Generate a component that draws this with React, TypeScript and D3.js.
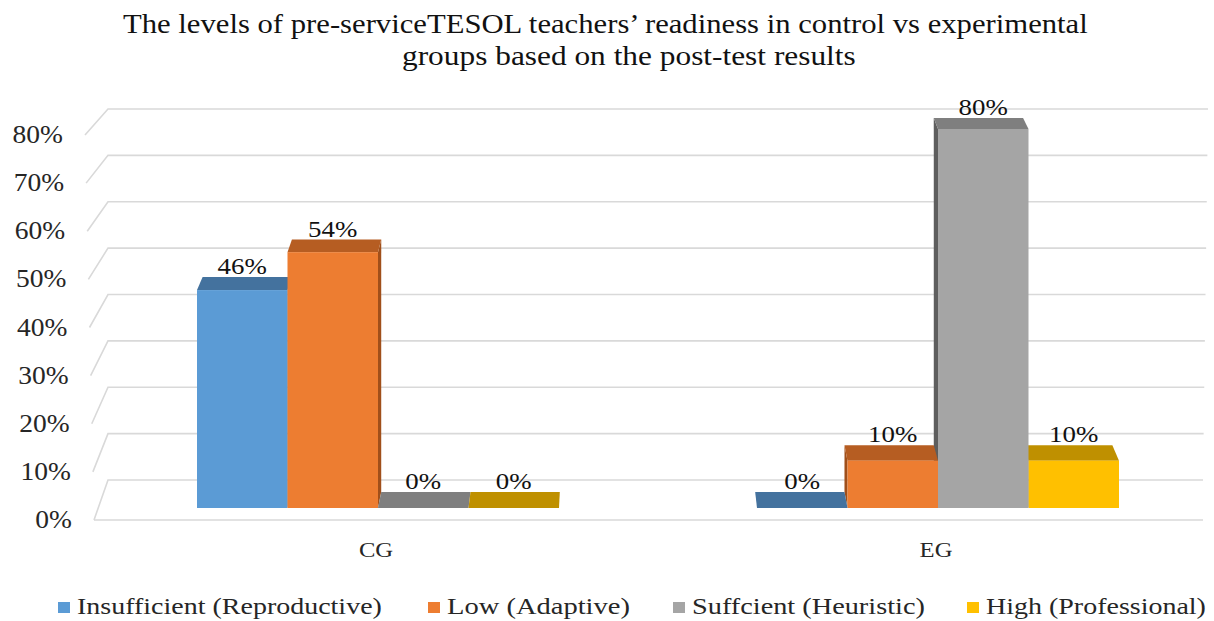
import * as d3 from "d3";
import { useEffect, useRef } from "react";

const categories = ["CG", "EG"];
const seriesNames = [
  "Insufficient (Reproductive)",
  "Low (Adaptive)",
  "Suffcient (Heuristic)",
  "High (Professional)",
];
const insufficient = [46, 0];
const low = [54, 10];
const sufficient = [0, 80];
const high = [0, 10];
const yTicks = [0, 10, 20, 30, 40, 50, 60, 70, 80];

const frontColors = ["#5B9BD5", "#ED7D31", "#A5A5A5", "#FFC000"];
const topColors = ["#44729E", "#B65D22", "#7F7F7F", "#BF9000"];
const sideColors = ["#3A6690", "#A04F1A", "#5E5E5E", "#A67C00"];

const W = 1214;
const H = 621;
const FONT = "Liberation Serif, Times New Roman, serif";

// stretch a text horizontally so it spans a target width from its start x
function fitWidth(sel: d3.Selection<SVGTextElement, unknown, null, undefined>, x: number, y: number, target: number) {
  const len = sel.node()!.getComputedTextLength() || target;
  sel.attr("transform", `translate(${x},${y}) scale(${target / len},1)`);
}

export default function App() {
  const ref = useRef<SVGSVGElement | null>(null);

  useEffect(() => {
    if (!ref.current) return;
    const svg = d3.select(ref.current);
    svg.selectAll("*").remove();

    const values = [insufficient, low, sufficient, high];

    // wall (gridlines) geometry
    const yWallFront = d3.scaleLinear().domain([0, 80]).range([520, 135]);
    const yWallBack = d3.scaleLinear().domain([0, 80]).range([480, 109]);
    const xWallFront = d3.scaleLinear().domain([0, 80]).range([94, 85]);
    const xWallRight = d3.scaleLinear().domain([0, 80]).range([1203, 1208]);
    const xWallBack = 108;

    // bars front plane
    const yBar = d3.scaleLinear().domain([0, 80]).range([508, 129]);
    const x0 = d3.scalePoint<string>().domain(categories).range([378, 938]);
    const x1 = d3.scaleBand<string>().domain(seriesNames).range([-181, 181]);

    // perspective toward a vanishing point
    const vx = 620;
    const vy = -698;
    const k = 0.0133;
    const back = (x: number, y: number): [number, number] => [
      x + (vx - x) * k,
      y + (vy - y) * k,
    ];

    const grid = svg.append("g");
    yTicks.forEach((t) => {
      const pts: [number, number][] = [
        [xWallFront(t), yWallFront(t)],
        [xWallBack, yWallBack(t)],
        [xWallRight(t), yWallBack(t)],
      ];
      grid
        .append("path")
        .attr("d", d3.line()(pts))
        .attr("fill", "none")
        .attr("stroke", "#D9D9D9")
        .attr("stroke-width", 1.6);
    });
    grid
      .append("line")
      .attr("x1", xWallFront(0))
      .attr("x2", xWallRight(0))
      .attr("y1", yWallFront(0))
      .attr("y2", yWallFront(0))
      .attr("stroke", "#D9D9D9")
      .attr("stroke-width", 1.6);

    // y axis labels
    svg
      .append("g")
      .selectAll("text")
      .data(yTicks)
      .join("text")
      .attr(
        "transform",
        (d) => `translate(${xWallFront(d) - 22},${yWallFront(d) + 8}) scale(1.1,1)`
      )
      .attr("text-anchor", "end")
      .attr("font-size", 25)
      .attr("fill", "#262626")
      .text((d) => `${d}%`);

    // bars
    type Bar = { cat: string; si: number; v: number; x: number; w: number };
    const bars: Bar[] = [];
    categories.forEach((c, ci) => {
      seriesNames.forEach((s, si) => {
        bars.push({ cat: c, si, v: values[si][ci], x: x0(c)! + x1(s)!, w: x1.bandwidth() });
      });
    });
    bars.sort(
      (a, b) =>
        Math.abs(b.x + b.w / 2 - vx) - Math.abs(a.x + a.w / 2 - vx)
    );

    const gBars = svg.append("g");
    bars.forEach((b) => {
      const xl = b.x;
      const xr = b.x + b.w;
      const yt = yBar(b.v);
      const yb = yBar(0);
      const g = gBars.append("g");
      const leftSide = xl + b.w / 2 > vx;
      const xe = leftSide ? xl : xr;
      g.append("path")
        .attr(
          "d",
          d3.line()([[xe, yt], back(xe, yt), back(xe, yb), [xe, yb]]) + "Z"
        )
        .attr("fill", sideColors[b.si]);
      g.append("path")
        .attr(
          "d",
          d3.line()([[xl, yt], [xr, yt], back(xr, yt), back(xl, yt)]) + "Z"
        )
        .attr("fill", topColors[b.si]);
      g.append("rect")
        .attr("x", xl)
        .attr("y", yt)
        .attr("width", b.w)
        .attr("height", yb - yt)
        .attr("fill", frontColors[b.si]);
    });

    // data labels
    svg
      .append("g")
      .selectAll("text")
      .data(bars)
      .join("text")
      .attr("transform", (b) => {
        const [, by] = back(b.x + b.w / 2, yBar(b.v));
        return `translate(${b.x + b.w / 2},${by - 3}) scale(1.12,1)`;
      })
      .attr("text-anchor", "middle")
      .attr("font-size", 24)
      .attr("fill", "#111")
      .text((b) => `${b.v}%`);

    // category labels
    svg
      .append("g")
      .selectAll("text")
      .data(categories)
      .join("text")
      .attr("transform", (c) => `translate(${x0(c)! - 2},557) scale(1.12,1)`)
      .attr("text-anchor", "middle")
      .attr("font-size", 22)
      .attr("fill", "#262626")
      .text((c) => c);

    // title
    const titleLines = [
      { t: "The levels of pre-serviceTESOL teachers’ readiness in control vs experimental", x: 123, y: 33, len: 965 },
      { t: "groups based on the post-test results", x: 402, y: 65, len: 454 },
    ];
    titleLines.forEach((d) => {
      const t = svg
        .append("text")
        .attr("font-size", 28)
        .attr("fill", "#111")
        .text(d.t);
      fitWidth(t, d.x, d.y, d.len);
    });

    // legend
    const legendX = [58, 428, 673, 967];
    const legendLen = [305, 183, 233, 220];
    const lg = svg.append("g");
    seriesNames.forEach((s, i) => {
      lg.append("rect")
        .attr("x", legendX[i])
        .attr("y", 602)
        .attr("width", 12)
        .attr("height", 11)
        .attr("fill", frontColors[i]);
      const t = lg
        .append("text")
        .attr("font-size", 23)
        .attr("fill", "#262626")
        .text(s);
      fitWidth(t, legendX[i] + 19, 614, legendLen[i]);
    });
  }, []);

  return (
    <svg
      ref={ref}
      width={W}
      height={H}
      viewBox={`0 0 ${W} ${H}`}
      fontFamily={FONT}
      style={{ position: "absolute", left: 0, top: 0, background: "#fff" }}
    />
  );
}
